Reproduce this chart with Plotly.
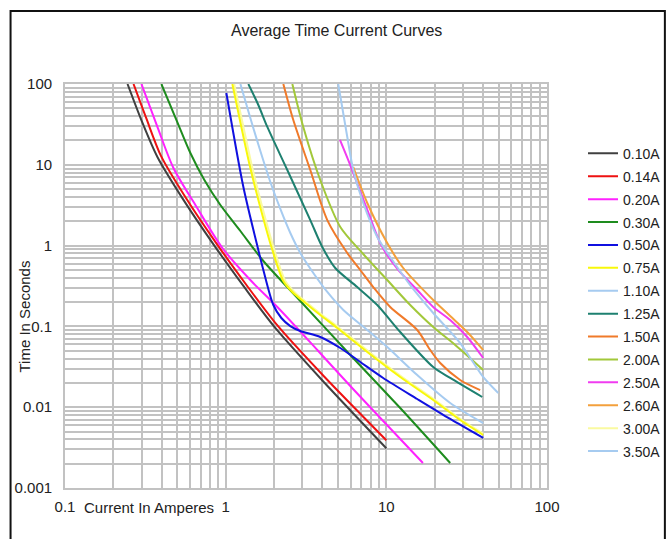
import plotly.graph_objects as go

# ---- data (current in A, time in s) ----
labels = ["0.10A", "0.14A", "0.20A", "0.30A", "0.50A", "0.75A", "1.10A",
          "1.25A", "1.50A", "2.00A", "2.50A", "2.60A", "3.00A", "3.50A"]
colors = ["#404040", "#ee1111", "#ff22ff", "#1e8c1e", "#1010e0", "#f8f80a", "#a6cbf0",
          "#1e8070", "#f07a2a", "#a2c83a", "#f03cf0", "#f3a03c", "#fafaa0", "#a6cbf0"]

i_010 = [0.245, 0.30, 0.376, 0.55, 0.85, 1.3, 2.0, 4.0, 10.0]
t_010 = [100, 35, 12.5, 3.6, 1.0, 0.31, 0.1, 0.0214, 0.0031]

i_014 = [0.267, 0.32, 0.395, 0.57, 0.88, 1.34, 2.08, 4.1, 10.0]
t_014 = [100, 38, 13, 3.8, 1.05, 0.33, 0.105, 0.024, 0.0039]

i_020 = [0.299, 0.376, 0.473, 0.648, 0.954, 1.424, 2.097, 3.72, 5.965, 9.56, 16.9]
t_020 = [100, 29.4, 9.13, 3.18, 0.934, 0.375, 0.174, 0.051, 0.0183, 0.00675, 0.00204]

i_030 = [0.398, 0.494, 0.603, 0.737, 0.927, 1.235, 1.716, 2.915, 5.965, 12.2, 24.97]
t_030 = [100, 35.8, 14.0, 6.49, 3.18, 1.516, 0.645, 0.206, 0.0443, 0.00977, 0.00204]

i_050 = [1.01, 1.289, 1.597, 1.716, 1.98, 2.221, 2.526, 2.915, 3.88, 5.17, 6.88, 9.56, 15.57, 24.97, 40.06]
t_050 = [77.4, 5.31, 0.882, 0.499, 0.184, 0.127, 0.101, 0.0877, 0.0739, 0.054, 0.0363, 0.023, 0.01264, 0.00715, 0.00416]

i_075 = [1.101, 1.252, 1.424, 1.692, 1.952, 2.285, 2.6, 3.131, 3.88, 4.95, 7.61, 12.2, 19.58, 28.8, 40.06]
t_075 = [100, 29.4, 9.13, 2.39, 0.882, 0.365, 0.2666, 0.195, 0.1384, 0.0955, 0.0482, 0.02365, 0.01228, 0.00694, 0.00453]

i_110 = [1.235, 1.424, 1.644, 1.897, 2.189, 2.526, 2.915, 3.512, 4.29, 5.40, 7.61, 10.13, 15.57, 24.97, 40.06]
t_110 = [100, 37.96, 14.8, 6.12, 2.84, 1.432, 0.81, 0.458, 0.2666, 0.1596, 0.0903, 0.0556, 0.025, 0.01127, 0.00637]

i_125 = [1.384, 1.597, 1.817, 2.419, 3.363, 3.994, 4.81, 6.59, 8.78, 12.2, 19.58, 24.97, 39.5]
t_125 = [100, 55, 29.4, 8.62, 2.07, 0.961, 0.528, 0.307, 0.184, 0.0852, 0.0314, 0.023, 0.01337]

i_150 = [2.285, 2.636, 3.363, 4.29, 5.714, 6.88, 8.29, 10.57, 15.57, 18.76, 21.64, 28.8, 38.37]
t_150 = [100, 35.8, 8.62, 2.07, 0.81, 0.499, 0.307, 0.174, 0.0903, 0.051, 0.0352, 0.0217, 0.0163]

i_200 = [2.6, 3.042, 3.88, 5.17, 7.18, 10.13, 14.08, 19.58, 26.83, 40.06]
t_200 = [100, 29.4, 6.48, 1.70, 0.787, 0.375, 0.184, 0.0983, 0.0589, 0.0289]

i_250 = [5.145, 6.026, 7.61, 9.30, 11.86, 15.57, 19.58, 24.97, 31.86, 40.06]
t_250 = [20.3, 9.39, 2.76, 1.017, 0.499, 0.282, 0.174, 0.12, 0.0739, 0.0406]

i_260 = [6.225, 7.61, 10.13, 12.74, 19.58, 24.97, 31.86, 40.06]
t_260 = [9.39, 3.37, 1.077, 0.528, 0.212, 0.1345, 0.0852, 0.051]

i_300 = [1.13, 1.29, 1.466, 1.742, 2.01, 2.353, 2.68, 3.22, 3.99, 5.09, 7.83, 12.55, 20.1, 29.6, 40.06]
t_300 = [100, 29.4, 9.13, 2.39, 0.882, 0.365, 0.2666, 0.195, 0.1384, 0.0955, 0.0482, 0.02365, 0.01228, 0.00694, 0.0047]

i_350 = [5.02, 5.714, 6.225, 7.18, 8.78, 10.57, 14.08, 19.58, 28.8, 40.06, 49.66]
t_350 = [100, 22.1, 8.62, 3.37, 1.278, 0.723, 0.325, 0.1466, 0.0623, 0.02365, 0.015]

currents = [i_010, i_014, i_020, i_030, i_050, i_075, i_110, i_125, i_150, i_200, i_250, i_260, i_300, i_350]
times = [t_010, t_014, t_020, t_030, t_050, t_075, t_110, t_125, t_150, t_200, t_250, t_260, t_300, t_350]

x_decades = [0.1, 1, 10, 100]
x_ticktext = ["0.1", "1", "10", "100"]
y_decades = [0.001, 0.01, 0.1, 1, 10, 100]
y_ticktext = ["0.001", "0.01", "0.1", "1", "10", "100"]


def grid_vals(decades):
    vals = []
    for d in decades[:-1]:
        for m in range(1, 10):
            vals.append(d * m)
    vals.append(decades[-1])
    return vals


xv = grid_vals(x_decades)
yv = grid_vals(y_decades)
xt = [x_ticktext[x_decades.index(v)] if v in x_decades else "" for v in xv]
yt = [y_ticktext[y_decades.index(v)] if v in y_decades else "" for v in yv]

# draw order: pale 3.00A first so it sits beneath the others
draw_order = [12] + [k for k in range(len(labels)) if k != 12]

fig = go.Figure()
for k in draw_order:
    fig.add_trace(go.Scatter(
        x=currents[k], y=times[k], mode="lines", name=labels[k], legendgroup=labels[k],
        legendrank=k + 1,
        line=dict(color=colors[k], width=2, shape="spline", smoothing=0.8),
    ))

FONT = "Liberation Sans, Arial, sans-serif"
grid_col = "#c2c2c2"

fig.update_layout(
    width=672, height=539, autosize=False,
    margin=dict(l=64.5, r=125, t=84, b=51),
    paper_bgcolor="white", plot_bgcolor="white",
    font=dict(family=FONT, size=15, color="#222222"),
    showlegend=True,
    legend=dict(
        x=583 / 672, xref="container", xanchor="left", y=0.867, yref="paper", yanchor="top",
        font=dict(size=14, color="#222222"),
        tracegroupgap=1.7, bgcolor="rgba(0,0,0,0)",
        traceorder="grouped",
    ),
    xaxis=dict(
        type="log", range=[-1, 2],
        tickmode="array", tickvals=xv, ticktext=xt,
        showgrid=True, gridcolor=grid_col, gridwidth=1.8,
        showline=True, linecolor=grid_col, linewidth=1.8, mirror=True,
        ticks="", zeroline=False, ticklabelstandoff=4,
        tickfont=dict(size=15),
    ),
    yaxis=dict(
        type="log", range=[-3, 2],
        tickmode="array", tickvals=yv, ticktext=yt,
        showgrid=True, gridcolor=grid_col, gridwidth=1.8,
        showline=True, linecolor=grid_col, linewidth=1.8, mirror=True,
        ticks="", zeroline=False, ticklabelstandoff=8,
        tickfont=dict(size=15),
    ),
)

fig.add_annotation(text="Average Time Current Curves", xref="paper", yref="paper",
                   x=(336 - 64.5) / 482.5, y=(488 - 30) / 404, showarrow=False,
                   xanchor="center", yanchor="middle", font=dict(size=16, color="#222222"))
fig.add_annotation(text="Current In Amperes", xref="paper", yref="paper",
                   x=(149 - 64.5) / 482.5, y=(488 - 507) / 404, showarrow=False,
                   xanchor="center", yanchor="middle", font=dict(size=15, color="#222222"))
fig.add_annotation(text="Time In Seconds", xref="paper", yref="paper",
                   x=(23 - 64.5) / 482.5, y=(488 - 317) / 404, showarrow=False,
                   textangle=-90, xanchor="center", yanchor="middle",
                   font=dict(size=15, color="#222222"))
fig.add_shape(type="rect", xref="paper", yref="paper",
              x0=(10 - 64.5) / 482.5, x1=(665 - 64.5) / 482.5,
              y0=(488 - 560) / 404, y1=(488 - 11) / 404,
              line=dict(color="#111111", width=2), fillcolor="rgba(0,0,0,0)", layer="below")

fig.write_html("out.html", config={"displayModeBar": False, "responsive": False},
               post_script="document.body.style.margin='0';document.body.style.overflow='hidden';")
